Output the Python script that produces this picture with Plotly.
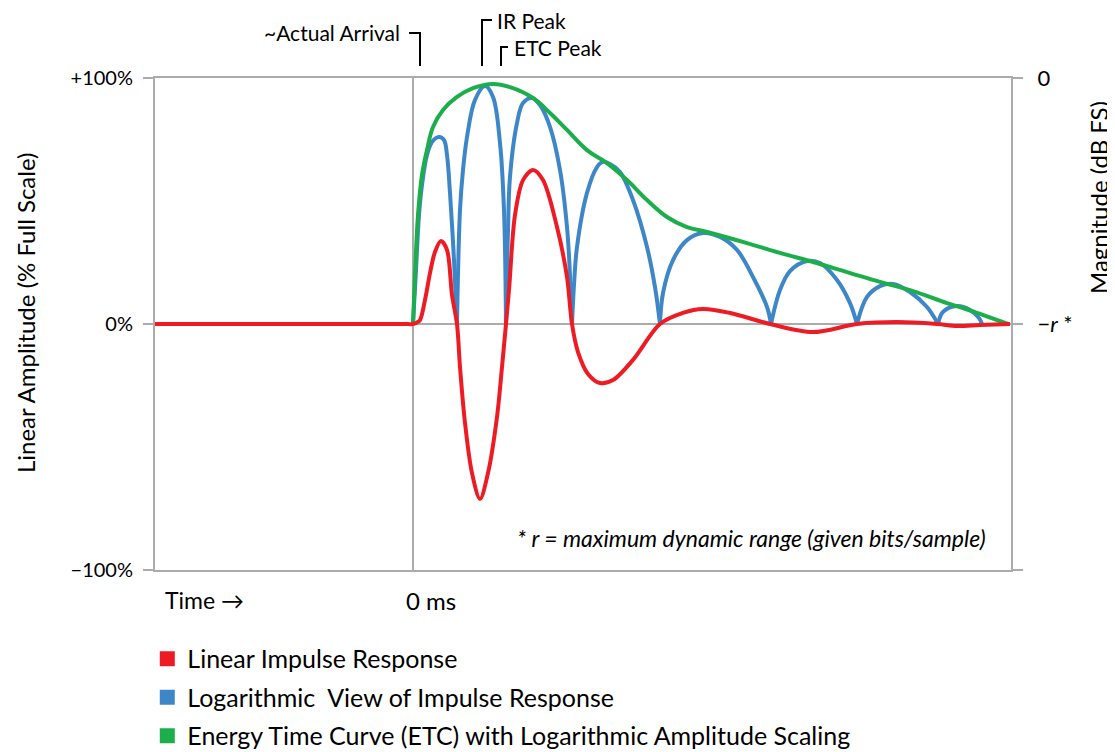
import plotly.graph_objects as go

# time axis in arbitrary units, 0 = arrival; amplitude in % of full scale
X_RANGE = [-25.8, 59.8]

red_t = [-25.8, -12.0, -1.0, 0, 0.3, 0.7, 1.2, 1.7, 2.2, 2.8, 3.4, 3.9, 4.4, 4.7, 5.2, 5.9, 6.7, 7.5, 8.4,
         8.9, 9.3, 9.6, 10.2, 11.0, 12.0, 13.0, 14.4, 15.4, 15.9, 16.5, 17.5, 18.7, 20.0, 22.0, 24.7, 27.0,
         29.0, 31.7, 35.7, 40.0, 44.4, 48.4, 52.4, 54.4, 56.7, 59.7]
red_y = [0, 0, 0, 0, 0.4, 1.6, 9.8, 20.7, 29.3, 33.7, 30.1, 11.8, 0, -17.5, -40.2, -60.6, -71.1, -60.6,
         -37.8, -17.5, 0, 13.8, 44.3, 58.5, 62.6, 58.5, 39.4, 19.1, 0, -11.4, -20.3, -24.0, -22.8, -14.6,
         0, 4.5, 6.1, 4.5, 0, -3.3, 0, 0.8, 0, -0.8, -0.4, 0]

# |IR| on a log scale, one arch per half cycle
blue_arches_t = [
    [0, 0.3, 0.6, 0.9, 1.4, 1.9, 2.6, 3.1, 3.4, 3.7, 4.1, 4.4],
    [4.4, 4.7, 5.0, 5.4, 6.2, 7.2, 8.0, 8.7, 9.1, 9.3],
    [9.3, 9.5, 9.7, 10.4, 11.0, 11.9, 12.7, 13.7, 14.7, 15.4, 15.7, 15.9],
    [15.9, 16.1, 16.4, 17.4, 18.4, 19.0, 19.7, 20.7, 22.0, 23.4, 24.2, 24.7],
    [24.7, 25.0, 26.0, 27.4, 29.0, 30.7, 32.4, 34.0, 35.4, 35.8],
    [35.8, 36.7, 37.7, 39.4, 40.7, 42.4, 43.7, 44.4],
    [44.4, 45.4, 46.7, 48.0, 49.7, 51.4, 52.5],
    [52.5, 53.0, 54.4, 55.7, 56.6, 56.9],
]
blue_arches_y = [
    [0, 22.0, 44.3, 56.5, 68.7, 74.0, 76.0, 74.8, 68.7, 53.3, 26.0, 0],
    [0, 46.3, 62.6, 76.0, 91.1, 96.7, 92.3, 73.6, 46.3, 0],
    [0, 38.2, 59.8, 81.7, 89.8, 91.9, 89.0, 80.1, 62.6, 39.4, 19.9, 0],
    [0, 15.9, 31.3, 53.3, 63.8, 65.9, 65.0, 61.8, 50.4, 31.3, 15.0, 0],
    [0, 12.6, 26.0, 34.1, 37.0, 35.4, 30.1, 19.1, 6.9, 0],
    [0, 13.8, 21.5, 25.6, 24.8, 17.9, 8.5, 0],
    [0, 11.0, 15.4, 16.3, 13.0, 6.9, 0],
    [0, 4.9, 7.3, 5.7, 2.4, 0],
]

green_t = [0, 0.2, 0.5, 0.9, 1.4, 2.0, 3.0, 4.4, 6.0, 8.0, 9.7, 12.0, 13.7, 15.4, 17.4, 19.4, 21.4, 23.4,
           25.4, 27.4, 29.4, 33.4, 36.7, 40.0, 43.4, 46.7, 50.0, 53.4, 55.0, 56.7, 59.5]
green_y = [0, 19.9, 44.3, 60.6, 70.7, 80.1, 87.0, 92.3, 95.9, 97.6, 96.3, 91.9, 85.8, 78.9, 70.7, 65.4,
           58.5, 50.4, 43.5, 39.4, 37.4, 32.9, 28.9, 25.2, 21.1, 17.1, 13.4, 8.5, 6.5, 4.1, 0]

legend_names = [
    "Linear Impulse Response",
    "Logarithmic  View of Impulse Response",
    "Energy Time Curve (ETC) with Logarithmic Amplitude Scaling",
]

RED = "#ED1C24"
BLUE = "#3D87C9"
GREEN = "#1BAE4B"
AXIS = "#ABABAB"
FONT = "Lato"

blue_t, blue_y = [], []
for at, ay in zip(blue_arches_t, blue_arches_y):
    blue_t += at + [None]
    blue_y += ay + [None]

fig = go.Figure()
fig.add_trace(go.Scatter(x=blue_t, y=blue_y, mode="lines", showlegend=False,
                         line=dict(color=BLUE, width=4, shape="spline", smoothing=1.0)))
fig.add_trace(go.Scatter(x=green_t, y=green_y, mode="lines", showlegend=False,
                         line=dict(color=GREEN, width=4, shape="spline", smoothing=1.1)))
fig.add_trace(go.Scatter(x=red_t, y=red_y, mode="lines", showlegend=False,
                         line=dict(color=RED, width=4, shape="spline", smoothing=0.9)))

# legend swatches
for i, (name, col) in enumerate(zip(legend_names, [RED, BLUE, GREEN])):
    fig.add_trace(go.Scatter(x=[None], y=[None], mode="markers", name=name, legendgroup=str(i),
                             marker=dict(symbol="square", size=15, color=col)))

# right axis labels (dB scale)
fig.add_trace(go.Scatter(x=[None], y=[None], yaxis="y2", showlegend=False))

# page body has an 8px margin, so the figure is 8px smaller than the window
fig.update_layout(
    width=1107, height=744,
    margin=dict(l=147, r=104, t=70, b=182, autoexpand=False),
    plot_bgcolor="white", paper_bgcolor="white",
    font=dict(family=FONT, size=20, color="black"),
    xaxis=dict(range=X_RANGE, showline=True, mirror=True, linecolor=AXIS, linewidth=2,
               tickvals=[0], showticklabels=False, ticks="", showgrid=True,
               gridcolor=AXIS, gridwidth=2, zeroline=False),
    yaxis=dict(range=[-100, 100], showline=True, mirror=True, linecolor=AXIS, linewidth=2,
               tickvals=[100, 0, -100], ticktext=["+100%", "0%", "\u2212100%"],
               ticks="outside", ticklen=10, tickwidth=2, tickcolor=AXIS, ticklabelstandoff=6,
               showgrid=False, zeroline=True, zerolinecolor=AXIS, zerolinewidth=2,
               tickfont=dict(size=20)),
    yaxis2=dict(range=[-100, 100], overlaying="y", side="right",
                tickvals=[100, 0, -100], ticktext=["0", "\u2212<i>r</i> *", ""],
                ticks="outside", ticklen=11, tickwidth=2, tickcolor=AXIS, ticklabelstandoff=10,
                showgrid=False, zeroline=False, showline=False, tickfont=dict(size=22)),
    legend=dict(x=-0.009, y=-0.134, xanchor="left", yanchor="top", traceorder="grouped",
                tracegroupgap=3, font=dict(size=25), bgcolor="rgba(0,0,0,0)"),
    showlegend=True,
)

annots = [
    dict(text="Linear Amplitude (% Full Scale)", x=-0.152, y=0.524, textangle=-90, size=24),
    dict(text="Magnitude (dB FS)", x=1.1016, y=0.758, textangle=-90, size=24),
    dict(text="Time \u2192", x=0.0093, y=-0.061, xanchor="left", size=23),
    dict(text="0 ms", x=0.2914, y=-0.061, xanchor="left", size=24),
    dict(text="<i>* r = maximum dynamic range (given bits/sample)</i>", x=0.9731, y=0.065,
         xanchor="right", size=23),
]
for a in annots:
    fig.add_annotation(text=a["text"], x=a["x"], y=a["y"], xref="paper", yref="paper",
                       xanchor=a.get("xanchor", "center"), yanchor="middle",
                       textangle=a.get("textangle", 0), showarrow=False,
                       font=dict(family=FONT, size=a["size"], color="black"))

# callouts above the plot, anchored at time positions
callouts = [
    dict(text="~Actual Arrival", x=-1.1, y=1.0915, xanchor="right"),
    dict(text="IR Peak", x=8.2, y=1.117, xanchor="left"),
    dict(text="ETC Peak", x=9.9, y=1.063, xanchor="left"),
]
for c in callouts:
    fig.add_annotation(text=c["text"], x=c["x"], y=c["y"], xref="x", yref="paper",
                       xanchor=c["xanchor"], yanchor="middle", showarrow=False,
                       font=dict(family=FONT, size=21, color="black"))

brackets = [
    "M -0.4,1.0915 H 0.7 V 1.0244",
    "M 7.9,1.1179 H 6.9 V 1.0244",
    "M 9.5,1.063 H 8.8 V 1.0244",
]
for p in brackets:
    fig.add_shape(type="path", path=p, xref="x", yref="paper",
                  line=dict(color="black", width=2))

fig.write_html("out.html")
